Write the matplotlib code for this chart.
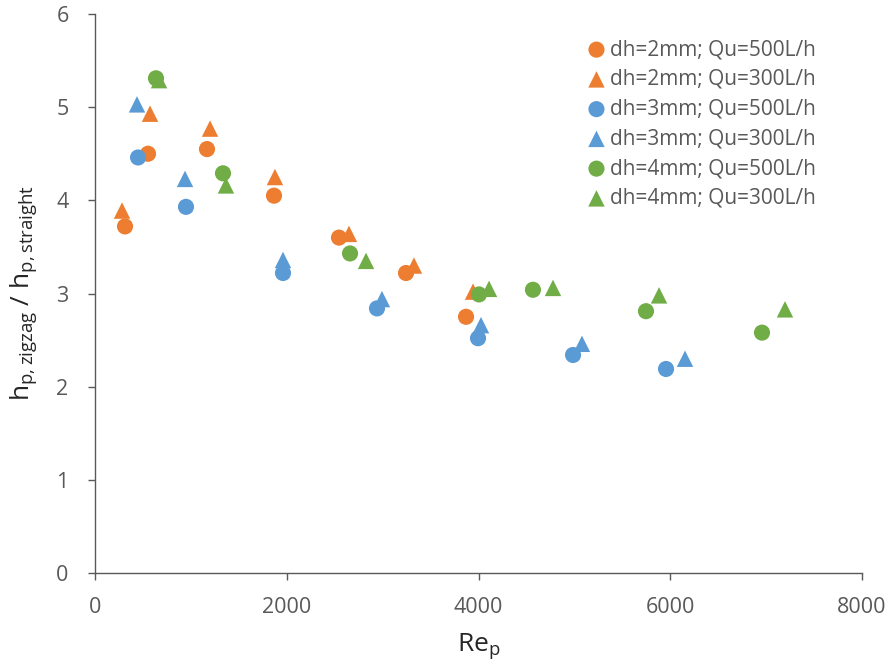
import matplotlib
matplotlib.use("Agg")
import matplotlib.pyplot as plt

plt.rcParams['font.family'] = ['Open Sans', 'DejaVu Sans']

labels = ["dh=2mm; Qu=500L/h", "dh=2mm; Qu=300L/h",
          "dh=3mm; Qu=500L/h", "dh=3mm; Qu=300L/h",
          "dh=4mm; Qu=500L/h", "dh=4mm; Qu=300L/h"]

re_2mm_500 = [313, 553, 1168, 1867, 2545, 3244, 3870]
h_2mm_500 = [3.72, 4.50, 4.55, 4.05, 3.60, 3.22, 2.75]
re_2mm_300 = [282, 574, 1200, 1877, 2649, 3327, 3943]
h_2mm_300 = [3.89, 4.93, 4.77, 4.25, 3.64, 3.30, 3.02]
re_3mm_500 = [449, 949, 1961, 2941, 3995, 4986, 5956]
h_3mm_500 = [4.46, 3.93, 3.22, 2.84, 2.52, 2.34, 2.19]
re_3mm_300 = [438, 939, 1961, 2993, 4026, 5079, 6154]
h_3mm_300 = [5.03, 4.23, 3.36, 2.94, 2.66, 2.46, 2.30]
re_4mm_500 = [636, 1335, 2660, 4005, 4568, 5747, 6957]
h_4mm_500 = [5.31, 4.29, 3.43, 2.99, 3.04, 2.81, 2.58]
re_4mm_300 = [668, 1366, 2827, 4110, 4777, 5883, 7197]
h_4mm_300 = [5.29, 4.16, 3.35, 3.05, 3.06, 2.98, 2.83]

series = [(re_2mm_500, h_2mm_500), (re_2mm_300, h_2mm_300),
          (re_3mm_500, h_3mm_500), (re_3mm_300, h_3mm_300),
          (re_4mm_500, h_4mm_500), (re_4mm_300, h_4mm_300)]
colors = ['#ED7D31', '#ED7D31', '#5B9BD5', '#5B9BD5', '#70AD47', '#70AD47']
markers = ['o', '^', 'o', '^', 'o', '^']

fig = plt.figure(figsize=(8.93, 6.71), dpi=100)
ax = fig.add_axes([95/893, (671-573)/671, (862-95)/893, (573-14)/671])

for (x, y), c, m, lab in zip(series, colors, markers, labels):
    ax.scatter(x, y, s=135 if m == 'o' else 140, marker=m, color=c,
               edgecolors='none', label=lab, zorder=3)

ax.set_xlim(0, 8000)
ax.set_ylim(0, 6)
ax.set_xticks([0, 2000, 4000, 6000, 8000])
ax.set_yticks([0, 1, 2, 3, 4, 5, 6])

for s in ['top', 'right']:
    ax.spines[s].set_visible(False)
for s in ['left', 'bottom']:
    ax.spines[s].set_color('#595959')
    ax.spines[s].set_linewidth(1.0)
ax.tick_params(axis='both', colors='#595959', labelcolor='#595959',
               labelsize=15.5, length=5, width=1, direction='out')
ax.tick_params(axis='x', pad=12)
ax.tick_params(axis='y', pad=14)

ax.set_xlabel(r'Re$_{\mathregular{p}}$', fontsize=19, color='#262626', labelpad=10)
ax.set_ylabel(r'h$_{\mathregular{p,zigzag}}$ / h$_{\mathregular{p,straight}}$',
              fontsize=19, color='#262626', labelpad=12)

leg = ax.legend(loc='upper left', bbox_to_anchor=(0.628, 0.97), frameon=False,
                fontsize=15, handletextpad=0.1, labelspacing=0.42,
                borderaxespad=0, handlelength=1.1, markerscale=1.0)
for t in leg.get_texts():
    t.set_color('#595959')

fig.savefig('out.png', dpi=100)
